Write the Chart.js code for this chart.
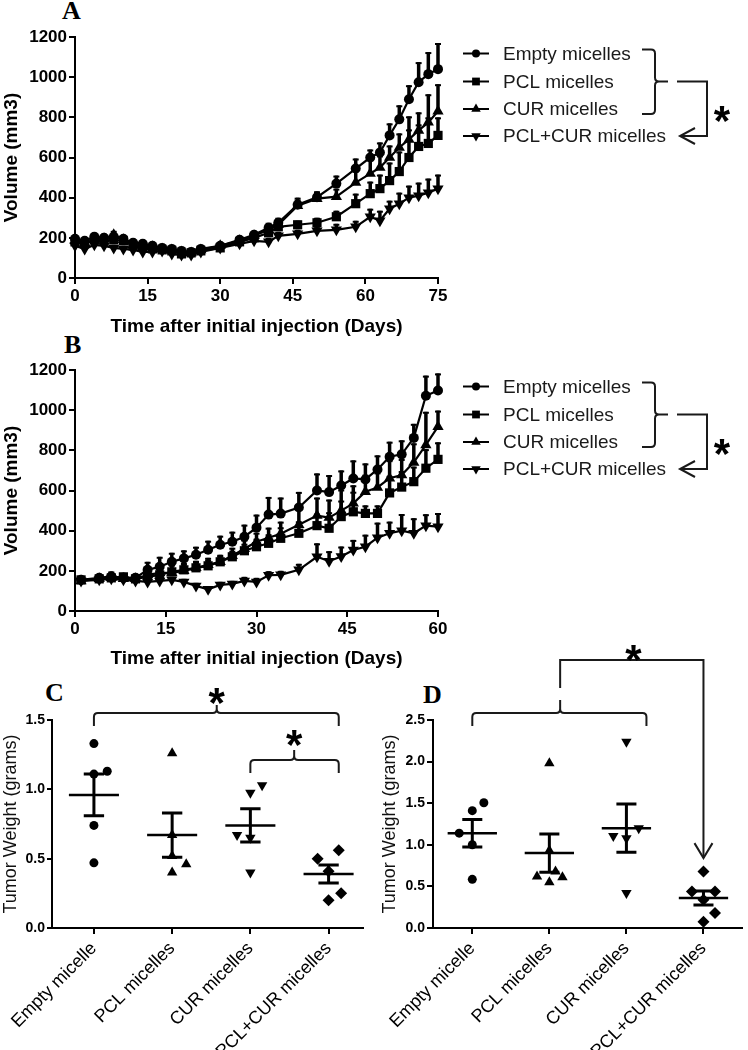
<!DOCTYPE html>
<html><head><meta charset="utf-8">
<script src="https://cdn.jsdelivr.net/npm/chart.js@4.4.1/dist/chart.umd.min.js"></script>
<style>
html,body{margin:0;padding:0;background:#fff;width:748px;height:1050px;overflow:hidden}
body{position:relative}
canvas{position:absolute}
.lab{position:absolute;font-family:"Liberation Serif","Times New Roman",serif;font-weight:bold;font-size:26px;line-height:26px;color:#000}
</style></head><body>
<div class="lab" style="left:62px;top:-2px">A</div>
<div class="lab" style="left:64px;top:332px">B</div>
<div class="lab" style="left:45px;top:680px">C</div>
<div class="lab" style="left:423px;top:682px">D</div>
<canvas id="cA" width="748" height="340" style="left:0;top:0"></canvas>
<canvas id="cB" width="748" height="337" style="left:0;top:335px"></canvas>
<canvas id="cC" width="370" height="410" style="left:0;top:640px"></canvas>
<canvas id="cD" width="378" height="410" style="left:370px;top:640px"></canvas>
<script>
// ---------- DATA ----------
const seriesNames = ["Empty micelles","PCL micelles","CUR micelles","PCL+CUR micelles"];
const categories = ["Empty micelle","PCL micelles","CUR micelles","PCL+CUR micelles"];

// Panel A (days 0-75)
const daysA = [0,2,4,6,8,10,12,14,16,18,20,22,24,26,30,34,37,40,42,46,50,54,58,61,63,65,67,69,71,73,75];
const emptyA = [195,185,205,200,205,195,175,170,160,150,145,135,130,145,160,190,215,250,275,365,402,470,545,600,625,710,790,890,975,1015,1040];
const pclA   = [180,170,190,185,190,185,160,155,145,140,135,120,125,135,150,180,200,225,255,265,275,305,370,420,445,485,530,600,655,670,710];
const curA   = [185,175,190,195,215,190,165,160,155,145,140,130,125,140,160,185,210,240,265,360,395,405,475,520,550,600,650,690,735,775,830];
const pcurA  = [160,145,165,160,150,145,140,130,130,135,120,115,115,130,150,170,185,180,210,220,235,240,255,305,285,345,370,400,410,425,445];
const emptyErrA = [15,15,20,20,20,15,20,20,20,20,15,20,20,15,15,15,20,25,25,35,30,40,50,40,50,60,70,70,100,110,130];
const pclErrA   = [15,15,15,15,15,15,15,15,15,15,15,15,15,15,15,15,20,20,20,20,25,30,50,60,70,90,100,140,110,130,90];
const curErrA   = [15,15,20,25,20,20,20,20,20,15,15,15,15,15,15,15,20,25,25,30,30,40,60,70,60,60,70,115,90,140,135];
const pcurErrA  = [15,15,15,15,15,15,15,15,15,15,15,15,15,15,15,15,15,20,20,20,25,30,30,40,50,40,55,60,65,70,70];

// Panel B (days 0-60)
const daysB = [1,4,6,8,10,12,14,16,18,20,22,24,26,28,30,32,34,37,40,42,44,46,48,50,52,54,56,58,60];
const emptyB = [155,165,172,165,165,205,220,245,262,280,305,330,345,370,415,480,485,515,600,592,625,660,655,705,768,780,862,1072,1098];
const pclB   = [155,160,165,170,160,170,180,195,205,215,225,245,270,300,320,337,362,387,425,412,470,494,486,486,588,617,644,711,755];
const curB   = [150,160,165,160,160,180,190,190,200,215,230,245,275,310,345,365,385,430,475,465,500,536,594,615,661,677,740,827,918];
const pcurB  = [150,155,160,155,150,145,150,155,145,125,108,130,135,150,145,178,180,205,270,248,271,304,320,365,387,400,387,425,420];
const emptyErrB = [15,20,25,20,20,40,50,45,40,40,45,45,50,60,65,88,80,78,85,85,75,90,80,70,75,70,70,100,85];
const pclErrB   = [15,20,20,20,20,35,40,40,35,30,30,30,30,35,40,45,55,60,60,80,80,100,40,40,85,80,75,95,85];
const curErrB   = [15,20,20,20,20,35,40,40,35,35,35,35,40,45,45,50,60,80,90,90,105,90,85,75,90,80,95,165,80];
const pcurErrB  = [10,10,10,10,10,15,15,15,15,15,15,15,15,20,20,20,20,30,67,50,50,50,60,75,58,83,75,57,68];

// Panel C (tumor weight, grams) with horizontal jitter (category units)
const weightC_empty = [1.33,1.11,1.13,0.74,0.47]; const jitterC_empty = [0,0,0.17,0,0];
const weightC_pcl   = [1.26,0.67,0.52,0.46,0.40]; const jitterC_pcl   = [0,0,0,0.18,0];
const weightC_cur   = [0.975,1.03,0.67,0.65,0.40]; const jitterC_cur  = [0,0.15,-0.17,0,0];
const weightC_pcur  = [0.50,0.56,0.41,0.20,0.25]; const jitterC_pcur  = [-0.14,0.13,0,0,0.16];
const meanC = [0.96,0.67,0.74,0.39];
const semC  = [0.15,0.16,0.12,0.065];

// Panel D
const weightD_empty = [1.41,1.505,1.14,1.0,0.585]; const jitterD_empty = [0,0.15,-0.17,0,0];
const weightD_pcl   = [1.98,0.93,0.68,0.62,0.55,0.61]; const jitterD_pcl = [0,0,0.08,-0.16,0,0.17];
const weightD_cur   = [2.24,1.105,1.08,1.20,0.42]; const jitterD_cur = [0,-0.17,0,0.16,0];
const weightD_pcur  = [0.68,0.44,0.44,0.34,0.18,0.075]; const jitterD_pcur = [0,-0.15,0.15,0,0.15,0];
const meanD = [1.14,0.90,1.20,0.36];
const semD  = [0.165,0.23,0.29,0.085];

// ---------- STYLE ----------
const FONT = "'Liberation Sans', Arial, sans-serif";
const pointStyles = ['circle','rect','triangle','triangle'];
const pointRots = [0,0,0,180];
const pointRadii = [5,6.5,6.5,6.5];

function gridOpts(len){ return {display:true, drawOnChartArea:false, drawTicks:true, tickLength:len, color:'#000', lineWidth:2}; }
const borderOpts = {display:true, color:'#000', width:2};

function star(ctx, cx, cy, size){
  ctx.save(); ctx.fillStyle='#000'; ctx.font='bold '+size+'px '+FONT;
  ctx.textAlign='center'; ctx.textBaseline='alphabetic';
  ctx.fillText('*', cx, cy + 0.553*size); ctx.restore();
}
function hBrace(ctx, xL, xR, xC, yLine, yEnd, yTip){
  const r=4; ctx.beginPath();
  ctx.moveTo(xL, yEnd); ctx.lineTo(xL, yLine + r); ctx.quadraticCurveTo(xL, yLine, xL + r, yLine);
  ctx.lineTo(xC - r, yLine); ctx.quadraticCurveTo(xC, yLine, xC, yLine - r); ctx.lineTo(xC, yTip);
  ctx.moveTo(xC, yLine - r); ctx.quadraticCurveTo(xC, yLine, xC + r, yLine);
  ctx.lineTo(xR - r, yLine); ctx.quadraticCurveTo(xR, yLine, xR, yLine + r); ctx.lineTo(xR, yEnd);
  ctx.stroke();
}
function vBrace(ctx, x0, x1, xTip, yT, yM, yB){
  const r=4; ctx.beginPath();
  ctx.moveTo(x0, yT); ctx.lineTo(x1 - r, yT); ctx.quadraticCurveTo(x1, yT, x1, yT + r);
  ctx.lineTo(x1, yM - r); ctx.quadraticCurveTo(x1, yM, x1 + r, yM); ctx.lineTo(xTip, yM);
  ctx.moveTo(x1 + r, yM); ctx.quadraticCurveTo(x1, yM, x1, yM + r);
  ctx.lineTo(x1, yB - r); ctx.quadraticCurveTo(x1, yB, x1 - r, yB); ctx.lineTo(x0, yB);
  ctx.stroke();
}

function makeTimeChart(id, W, H, area, days, series, errs, xMax, yTitleText){
  const datasets = series.map((vals,i)=>({
    label: seriesNames[i],
    data: vals.map((v,j)=>({x:days[j], y:v})),
    borderColor:'#000', backgroundColor:'#000', borderWidth:2.2,
    pointStyle:pointStyles[i], pointRotation:pointRots[i], pointRadius:pointRadii[i],
    pointBorderWidth:0, pointBackgroundColor:'#000', tension:0, clip:false
  }));
  const errPlugin = {id:'errbars', beforeDatasetsDraw(chart){
    const ctx=chart.ctx, xs=chart.scales.x, ys=chart.scales.y;
    ctx.save(); ctx.strokeStyle='#000'; ctx.lineWidth=3.5;
    series.forEach((vals,i)=>{ vals.forEach((v,j)=>{
      const x=xs.getPixelForValue(days[j]), y=ys.getPixelForValue(v), yt=ys.getPixelForValue(v+errs[i][j]);
      ctx.beginPath(); ctx.moveTo(x,y); ctx.lineTo(x,yt); ctx.stroke();
      ctx.lineWidth=2; ctx.beginPath(); ctx.moveTo(x-3,yt+1); ctx.lineTo(x+3,yt+1); ctx.stroke(); ctx.lineWidth=3.5;
    });});
    ctx.restore();
  }};
  const legendPlugin = {id:'leg', afterDraw(chart){
    const ctx=chart.ctx, top=chart.chartArea.top;
    const rows=[16.5,44.5,72,99].map(o=>top+o);
    ctx.save();
    rows.forEach((y,i)=>{
      ctx.strokeStyle='#000'; ctx.lineWidth=2;
      ctx.beginPath(); ctx.moveTo(463,y); ctx.lineTo(489,y); ctx.stroke();
      ctx.fillStyle='#000';
      Chart.helpers.drawPoint(ctx,{pointStyle:pointStyles[i], rotation:pointRots[i], radius:pointRadii[i]-1, borderWidth:0}, 476, y);
      ctx.fillStyle='#1a1a1a'; ctx.font='19px '+FONT; ctx.textAlign='left'; ctx.textBaseline='middle';
      ctx.fillText(seriesNames[i], 503, y+1);
    });
    ctx.strokeStyle='#1a1a1a'; ctx.lineWidth=2;
    vBrace(ctx, 642, 655, 668, rows[0]-4, rows[1], rows[2]+5);
    ctx.beginPath(); ctx.moveTo(677,rows[1]); ctx.lineTo(707,rows[1]); ctx.lineTo(707,rows[3]); ctx.lineTo(681,rows[3]); ctx.stroke();
    ctx.beginPath(); ctx.moveTo(695,rows[3]-8); ctx.lineTo(680,rows[3]); ctx.lineTo(695,rows[3]+8); ctx.stroke();
    star(ctx, 722, rows[2]+3, 42);
    ctx.restore();
  }};
  return new Chart(document.getElementById(id), {
    type:'line',
    data:{datasets},
    plugins:[errPlugin, legendPlugin],
    options:{
      responsive:false, animation:false, devicePixelRatio:1,
      layout:{padding:{left:0, top:area.top, right:W-area.right, bottom:0}},
      plugins:{legend:{display:false}, tooltip:{enabled:false}},
      scales:{
        x:{type:'linear', min:0, max:xMax,
           ticks:{stepSize:15, autoSkip:false, maxRotation:0, color:'#000', padding:2, font:{family:FONT, size:17, weight:'bold'}, callback:v=>String(v)},
           grid:gridOpts(6), border:borderOpts,
           title:{display:true, text:'Time after initial injection (Days)', color:'#000', font:{family:FONT, size:19, weight:'bold'}, padding:{top:2,bottom:2}},
           afterFit:s=>{ s.height = H - area.bottom; }},
        y:{type:'linear', min:0, max:1200,
           ticks:{stepSize:200, color:'#000', padding:2, font:{family:FONT, size:17, weight:'bold'}, callback:v=>String(v)},
           grid:gridOpts(6), border:borderOpts,
           title:{display:true, text:yTitleText, color:'#000', font:{family:FONT, size:19, weight:'bold'}, padding:{top:0,bottom:0}},
           afterFit:s=>{ s.width = area.left; }}
      }
    }
  });
}

makeTimeChart('cA', 748, 340, {left:75,right:438,top:37,bottom:278}, daysA,
  [emptyA,pclA,curA,pcurA], [emptyErrA,pclErrA,curErrA,pcurErrA], 75, 'Volume (mm3)');
makeTimeChart('cB', 748, 337, {left:75,right:438,top:35,bottom:276}, daysB,
  [emptyB,pclB,curB,pcurB], [emptyErrB,pclErrB,curErrB,pcurErrB], 60, 'Volume (mm3)');

function makeWeightChart(id, W, H, area, groups, jitters, means, sems, xMin, xMax, yMax, tick, yTitlePad, annot){
  const styles = ['circle','triangle','triangle','rectRot'];
  const rots = [0,0,180,0];
  const radii = [4.5,6,6,6];
  const datasets = groups.map((vals,i)=>({
    label: categories[i],
    data: vals.map((v,j)=>({x:i + jitters[i][j], y:v})),
    backgroundColor:'#000', borderColor:'#000',
    pointStyle:styles[i], pointRotation:rots[i], pointRadius:radii[i], pointBorderWidth:0, clip:false
  }));
  const semPlugin = {id:'sem', afterDatasetsDraw(chart){
    const ctx=chart.ctx, xs=chart.scales.x, ys=chart.scales.y;
    ctx.save(); ctx.strokeStyle='#000';
    means.forEach((m,i)=>{
      const y=ys.getPixelForValue(m);
      ctx.lineWidth=2.5; ctx.beginPath();
      ctx.moveTo(xs.getPixelForValue(i-0.32),y); ctx.lineTo(xs.getPixelForValue(i+0.32),y); ctx.stroke();
      const yt=ys.getPixelForValue(m+sems[i]), yb=ys.getPixelForValue(m-sems[i]);
      const x=xs.getPixelForValue(i), xl=xs.getPixelForValue(i-0.13), xr=xs.getPixelForValue(i+0.13);
      ctx.lineWidth=3; ctx.beginPath();
      ctx.moveTo(x,yt); ctx.lineTo(x,yb);
      ctx.moveTo(xl,yt); ctx.lineTo(xr,yt);
      ctx.moveTo(xl,yb); ctx.lineTo(xr,yb); ctx.stroke();
    });
    ctx.restore();
  }};
  const annPlugin = {id:'ann', afterDraw(chart){ annot(chart); }};
  return new Chart(document.getElementById(id), {
    type:'scatter',
    data:{datasets},
    plugins:[semPlugin, annPlugin],
    options:{
      responsive:false, animation:false, devicePixelRatio:1,
      layout:{padding:{left:0, top:area.top, right:W-area.right, bottom:0}},
      plugins:{legend:{display:false}, tooltip:{enabled:false}},
      scales:{
        x:{type:'linear', min:xMin, max:xMax,
           afterBuildTicks:s=>{ s.ticks = categories.map((c,i)=>({value:i})); },
           ticks:{autoSkip:false, minRotation:45, maxRotation:45, color:'#000', padding:4,
                  font:{family:FONT, size:18}, callback:(v)=>categories[Math.round(v)]},
           grid:gridOpts(6), border:borderOpts,
           afterFit:s=>{ s.height = H - area.bottom; }},
        y:{type:'linear', min:0, max:yMax,
           ticks:{stepSize:0.5, color:'#000', padding:2, font:{family:FONT, size:14, weight:'bold'}, callback:v=>Number(v).toFixed(1)},
           grid:gridOpts(tick), border:borderOpts,
           title:{display:true, text:'Tumor Weight (grams)', color:'#111', font:{family:FONT, size:18}, padding:{top:yTitlePad,bottom:0}},
           afterFit:s=>{ s.width = area.left; }}
      }
    }
  });
}

makeWeightChart('cC', 370, 410, {left:52,right:363,top:80,bottom:288},
  [weightC_empty,weightC_pcl,weightC_cur,weightC_pcur],
  [jitterC_empty,jitterC_pcl,jitterC_cur,jitterC_pcur],
  meanC, semC, -0.536, 3.44, 1.5, 5, 0,
  function(chart){
    const ctx=chart.ctx, xs=chart.scales.x, top=chart.chartArea.top;
    const px=v=>xs.getPixelForValue(v);
    ctx.save(); ctx.strokeStyle='#1a1a1a'; ctx.lineWidth=2;
    hBrace(ctx, px(0), px(3.13), px(1.57), top-7, top+6, top-15);
    hBrace(ctx, px(2), px(3.13), px(2.56), top+40, top+53, top+30);
    ctx.restore();
    star(ctx, px(1.57), top-26, 42);
    star(ctx, px(2.56), top+16, 42);
  });

makeWeightChart('cD', 378, 410, {left:63,right:377,top:80,bottom:288},
  [weightD_empty,weightD_pcl,weightD_cur,weightD_pcur],
  [jitterD_empty,jitterD_pcl,jitterD_cur,jitterD_pcur],
  meanD, semD, -0.51, 3.5, 2.5, 6, 9,
  function(chart){
    const ctx=chart.ctx, xs=chart.scales.x, ys=chart.scales.y, top=chart.chartArea.top;
    const px=v=>xs.getPixelForValue(v);
    ctx.save(); ctx.strokeStyle='#1a1a1a'; ctx.lineWidth=2;
    hBrace(ctx, px(0), px(2.26), px(1.14), top-7, top+6, top-20);
    const xa=px(3), ya=ys.getPixelForValue(0.84);
    ctx.beginPath(); ctx.moveTo(px(1.14), top-32); ctx.lineTo(px(1.14), top-60); ctx.lineTo(xa, top-60); ctx.lineTo(xa, ya); ctx.stroke();
    ctx.beginPath(); ctx.moveTo(xa-9, ya-15); ctx.lineTo(xa, ya); ctx.lineTo(xa+9, ya-15); ctx.stroke();
    ctx.restore();
    star(ctx, px(2.09), top-69, 42);
  });
</script>
</body></html>
